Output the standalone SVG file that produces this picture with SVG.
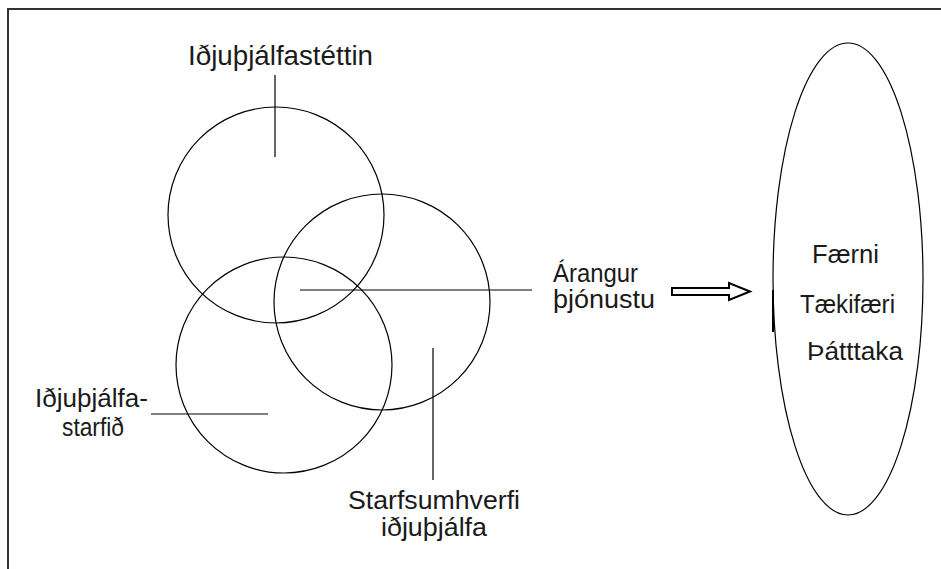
<svg xmlns="http://www.w3.org/2000/svg" width="941" height="569" viewBox="0 0 941 569">
<style>
.t{font-family:"Liberation Sans",Arial,sans-serif;font-size:25.5px;fill:#1a1a1a}
.big{font-size:27.5px}
.c{fill:none;stroke:#000;stroke-width:1.2}
.l{stroke:#000;stroke-width:1.2;fill:none}
</style>
<rect width="941" height="569" fill="#fff"/>
<g id="frame">
<path d="M8 569 V9 H941" fill="none" stroke="#333" stroke-width="2"/>
</g>
<g id="circle-stett"><circle class="c" cx="276" cy="215" r="108"/></g>
<g id="circle-umhverfi"><circle class="c" cx="382" cy="302" r="108"/></g>
<g id="circle-starf"><circle class="c" cx="284" cy="365" r="108"/></g>
<g id="outcome"><ellipse class="c" cx="848" cy="279" rx="75" ry="236"/><line x1="773" y1="290" x2="773" y2="332" stroke="#000" stroke-width="2"/></g>
<g id="connectors">
<line class="l" x1="275" y1="75" x2="275" y2="157"/>
<line class="l" x1="300" y1="290" x2="532" y2="290"/>
<line class="l" x1="151" y1="414" x2="268" y2="414"/>
<line class="l" x1="433" y1="348" x2="433" y2="480"/>
<path d="M672 288 H729 V283 L750 291.5 L729 300 V295 H672 Z" fill="none" stroke="#000" stroke-width="2"/>
</g>
<g id="labels">
<text class="t big" x="188" y="65" textLength="185" lengthAdjust="spacingAndGlyphs">Iðjuþjálfastéttin</text>
<text class="t" x="553" y="282" textLength="85" lengthAdjust="spacingAndGlyphs">Árangur</text>
<text class="t" x="553" y="308" textLength="102" lengthAdjust="spacingAndGlyphs">þjónustu</text>
<text class="t" x="35" y="407" textLength="113" lengthAdjust="spacingAndGlyphs">Iðjuþjálfa-</text>
<text class="t" x="62" y="436" textLength="62" lengthAdjust="spacingAndGlyphs">starfið</text>
<text class="t" x="348" y="509" textLength="172" lengthAdjust="spacingAndGlyphs">Starfsumhverfi</text>
<text class="t" x="381" y="536" textLength="106" lengthAdjust="spacingAndGlyphs">iðjuþjálfa</text>
<text class="t" x="812" y="263" textLength="67" lengthAdjust="spacingAndGlyphs">Færni</text>
<text class="t" x="800" y="313" textLength="95" lengthAdjust="spacingAndGlyphs">Tækifæri</text>
<text class="t" x="807" y="360" textLength="96" lengthAdjust="spacingAndGlyphs">Þátttaka</text>
</g>
</svg>
